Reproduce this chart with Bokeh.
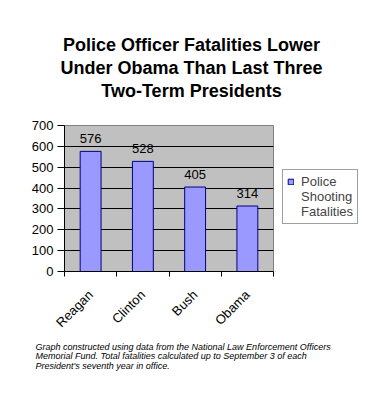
from bokeh.plotting import figure
from bokeh.models import (ColumnDataSource, FixedTicker, LinearAxis, CategoricalAxis,
                          LabelSet, Label, Legend, LegendItem, Range1d, FactorRange)
from bokeh.layouts import column, row
from bokeh.core.properties import value
from bokeh.embed import file_html
from bokeh.resources import INLINE

presidents = ["Reagan", "Clinton", "Bush", "Obama"]
fatalities = [576, 528, 405, 314]
series_lines = ["Police", "Shooting", "Fatalities"]
y_ticks = [0, 100, 200, 300, 400, 500, 600, 700]
boundary_ticks = [0, 1, 2, 3, 4]
title_lines = ["Police Officer Fatalities Lower",
               "Under Obama Than Last Three",
               "Two-Term Presidents"]
note_lines = ["Graph constructed using data from the National Law Enforcement Officers",
              "Memorial Fund.  Total fatalities calculated up to September 3 of each",
              "President's seventh year in office."]

FONT = "Liberation Sans"
W = 378
MAIN_W = 275
MAIN_H = 238
BAR_FILL = "#9999FF"
BAR_LINE = "#000080"


def blank_fig(width, height):
    f = figure(width=width, height=height, x_range=Range1d(0, 1), y_range=Range1d(0, 1),
               output_backend="svg", toolbar_location=None,
               x_axis_location=None, y_axis_location=None,
               min_border=0, min_border_left=0, min_border_right=0,
               min_border_top=0, min_border_bottom=0)
    f.outline_line_color = None
    f.xgrid.visible = False
    f.ygrid.visible = False
    f.background_fill_color = "white"
    f.border_fill_color = "white"
    return f


# ---- title ----
tfig = blank_fig(W, 100)
for t, yy in zip(title_lines, [55.5, 33, 10]):
    tfig.add_layout(Label(x=191, y=yy, x_units="screen", y_units="screen", text=t,
                          text_align="center", text_baseline="alphabetic",
                          text_font=FONT, text_font_style="bold", text_font_size="18px",
                          text_color="black"))

# ---- main chart ----
src = ColumnDataSource(dict(x=presidents, y=fatalities, lbl=[str(v) for v in fatalities]))

p = figure(width=MAIN_W, height=MAIN_H, x_range=FactorRange(*presidents),
           y_range=Range1d(0, 700),
           output_backend="svg", toolbar_location=None, x_axis_location=None,
           y_axis_location="left",
           min_border_left=64, min_border_right=2, min_border_top=25, min_border_bottom=67)
p.background_fill_color = "#C0C0C0"
p.border_fill_color = "white"
p.outline_line_color = "#808080"

ya = p.yaxis[0]
ya.ticker = FixedTicker(ticks=y_ticks)
ya.minor_tick_line_color = None
ya.major_tick_in = 0
ya.major_tick_out = 7
ya.major_label_standoff = 4
ya.major_label_text_font = FONT
ya.major_label_text_font_size = "13px"
ya.major_label_text_color = "black"
ya.axis_line_color = "black"
ya.major_tick_line_color = "black"

p.xgrid.visible = False
p.ygrid.grid_line_color = "black"
p.ygrid.grid_line_width = 1
p.ygrid.ticker = FixedTicker(ticks=y_ticks)

tick_axis = LinearAxis(ticker=FixedTicker(ticks=boundary_ticks),
                       major_label_overrides={t: "" for t in boundary_ticks})
tick_axis.major_label_text_font_size = "0px"
tick_axis.major_label_standoff = 0
tick_axis.major_tick_in = 0
tick_axis.major_tick_out = 5
tick_axis.minor_tick_line_color = None
tick_axis.axis_line_color = "black"
tick_axis.major_tick_line_color = "black"
p.add_layout(tick_axis, "below")

cat_axis = CategoricalAxis()
cat_axis.axis_line_color = None
cat_axis.major_tick_line_color = None
cat_axis.major_label_orientation = 0.785398
cat_axis.major_label_standoff = 10
cat_axis.major_label_text_font = FONT
cat_axis.major_label_text_font_size = "13px"
cat_axis.major_label_text_color = "black"
p.add_layout(cat_axis, "below")

p.vbar(x="x", top="y", width=0.4, source=src, fill_color=BAR_FILL,
       line_color=BAR_LINE, line_width=1)

labels = LabelSet(x="x", y="y", text="lbl", source=src, text_align="center",
                  text_baseline="alphabetic", y_offset=8, text_font=value(FONT),
                  text_font_size=value("13px"), text_color="black")
p.add_layout(labels)

# ---- legend panel (its frame is aligned with the chart's frame) ----
lfig = blank_fig(W - MAIN_W, MAIN_H)
# legend proxy: a single zero-height bar kept outside the visible range
proxy = ColumnDataSource(dict(x=[-1.0], top=[0.0]))
swatch = lfig.vbar(x="x", top="top", width=0.4, source=proxy, fill_color=BAR_FILL,
                   line_color=BAR_LINE, line_width=1)
blank = lfig.vbar(x="x", top="top", width=0.4, source=proxy, fill_alpha=0, line_alpha=0)
items = [LegendItem(label=series_lines[0], renderers=[swatch], index=0)] + \
        [LegendItem(label=s, renderers=[blank], index=0) for s in series_lines[1:]]
legend = Legend(items=items, location=(7, 47), padding=4, margin=0, spacing=0,
                glyph_width=7, glyph_height=7, label_height=15,
                label_standoff=7, label_text_font=FONT, label_text_font_size="13px",
                border_line_color="#404040",
                background_fill_color="white", background_fill_alpha=1.0)
lfig.add_layout(legend, "center")

# ---- footnote ----
nfig = blank_fig(W, 392 - 100 - MAIN_H)
for t, yy in zip(note_lines, [46, 36.5, 27]):
    nfig.add_layout(Label(x=35, y=yy, x_units="screen", y_units="screen", text=t,
                          text_align="left", text_baseline="alphabetic",
                          text_font=FONT, text_font_style="italic", text_font_size="9px",
                          text_color="black"))

layout = column(tfig, row(p, lfig, spacing=0), nfig, spacing=0)
open("out.html", "w").write(file_html(layout, INLINE))
